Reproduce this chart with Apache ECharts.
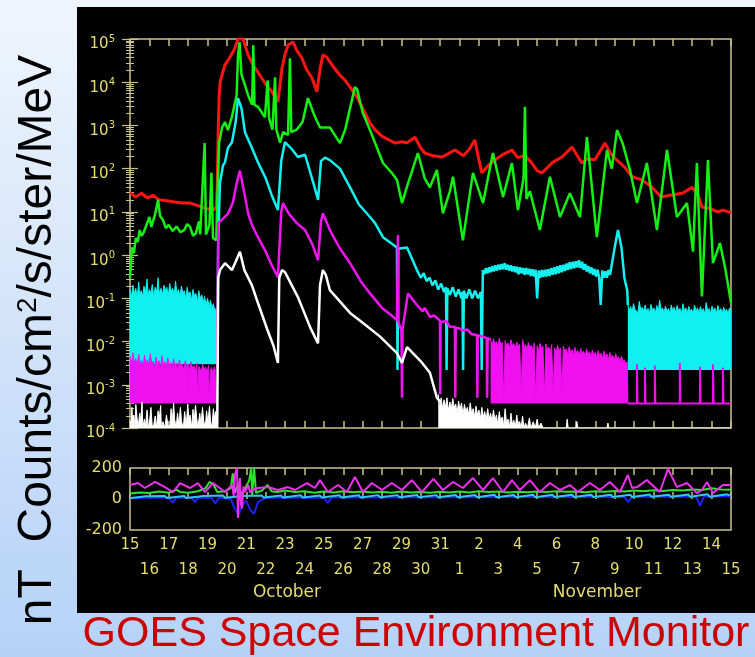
<!DOCTYPE html>
<html><head><meta charset="utf-8">
<script src="https://cdn.jsdelivr.net/npm/echarts@6/dist/echarts.min.js"></script>
<style>html,body{margin:0;padding:0;width:755px;height:657px;overflow:hidden;background:#dbe8fa}#c{width:755px;height:657px}</style>
</head><body><div id="c"></div><script>
// ---------- tick labels ----------
const dayLabels = ['15','16','17','18','19','20','21','22','23','24','25','26','27','28','29','30','31','1','2','3','4','5','6','7','8','9','10','11','12','13','14','15'];
const monthNames = ['October', 'November'];

// ---------- particle flux (x = days since Oct 15, y = counts/cm2/s/ster/MeV) ----------
const cyanFloor = 0.0022;
const cyanEarlyFloor = 0.003;
const magentaFloor = 0.00037;

const fluxRed = [[0,28],[0.3,22],[0.6,27],[0.9,21],[1.2,24],[1.5,19],[1.9,18],[2.3,17],[2.7,16],[3.1,16],[3.5,14],[3.9,12],[4.3,11],[4.45,13],
[4.5,40],[4.55,800],[4.6,5000],[4.65,10000],[4.8,18000],[4.9,25000],[5.16,38000],[5.4,60000],[5.57,100000],[5.83,100000],[6.09,43000],[6.35,25000],[6.6,17000],[7.0,9000],[7.32,6000],[7.63,3500],[7.84,21000],[8.0,45000],[8.15,72000],[8.41,85000],[8.6,55000],[8.87,36000],[9.1,20000],[9.39,12500],[9.64,6000],[9.8,20000],[9.95,43000],[10.15,38000],[10.42,25000],[10.83,14500],[11.1,11000],[11.35,7700],[11.7,4600],[12.0,2500],[12.38,1140],[12.64,800],[13.0,560],[13.3,480],[13.67,390],[14.0,420],[14.3,400],[14.7,535],[15.0,300],[15.2,230],[15.6,200],[16.1,186],[16.4,220],[16.76,270],[17.2,200],[17.5,280],[17.79,460],[17.95,200],[18.15,80],[18.5,120],[18.82,158],[19.3,220],[19.7,270],[20.0,180],[20.37,200],[20.7,140],[21.0,90],[21.25,80],[21.8,140],[22.28,186],[22.8,316],[23.3,135],[23.6,170],[23.98,160],[24.5,390],[24.8,220],[25.1,160],[25.5,110],[25.9,65],[26.4,55],[26.9,38],[27.4,22],[28.0,25],[28.5,27],[29.0,37],[29.3,24],[29.5,13],[29.9,12],[30.3,10],[30.6,11],[31.0,9.5]];

const fluxGreen = [[0,0.3],[0.1,1.5],[0.2,1.1],[0.3,2.5],[0.4,2],[0.5,3.8],[0.6,2.8],[0.7,3.3],[0.85,5],[1.0,7.6],[1.1,4.5],[1.2,5],[1.3,9],[1.45,19],[1.55,8],[1.7,6.5],[1.85,4.2],[2.0,5],[2.2,3.6],[2.4,4.6],[2.6,3.4],[2.8,3.8],[2.95,5.2],[3.1,4.5],[3.25,2.8],[3.4,3.2],[3.55,6],[3.62,3],[3.85,390],[3.92,3],[4.1,5],[4.2,80],[4.28,2.5],[4.45,2.2],[4.5,19],
[4.6,410],[4.75,900],[4.9,1200],[5.05,780],[5.26,1600],[5.5,5000],[5.57,40000],[5.65,85000],[5.75,15000],[5.93,8600],[6.09,5000],[6.3,3000],[6.36,72000],[6.42,3000],[6.6,2700],[6.96,1550],[7.1,11000],[7.17,1500],[7.35,800],[7.48,13000],[7.55,800],[7.74,400],[7.9,700],[8.15,600],[8.25,36000],[8.32,700],[8.6,800],[8.9,1200],[9.18,4300],[9.5,1750],[9.8,900],[10.31,900],[10.83,390],[11.1,800],[11.6,7700],[11.71,7000],[12.0,2000],[12.38,780],[13.05,135],[13.5,80],[13.77,55],[14.03,16],[14.3,40],[14.85,230],[15.2,60],[15.47,37],[15.83,93],[16.14,9.3],[16.5,30],[16.66,65],[17.17,2.2],[17.69,80],[18.21,16],[18.72,230],[19.24,22],[19.7,135],[20.01,11],[20.3,60],[20.37,2700],[20.45,20],[20.63,30],[21.14,3.8],[21.66,65],[22.18,7.6],[22.69,27],[23.21,7.6],[23.57,535],[24.08,2.6],[24.6,270],[24.85,100],[25.12,780],[25.4,400],[25.79,93],[26.15,16],[26.66,135],[27.18,3.8],[27.7,270],[28.21,7.6],[28.73,16],[29.04,1.2],[29.24,135],[29.5,0.11],[29.81,158],[30.07,0.65],[30.43,1.9],[30.7,0.5],[31.0,0.08]];

const fluxCyan = [[4.5,0.003],[4.55,2],[4.64,47],[4.8,120],[4.9,140],[5.05,300],[5.26,410],[5.45,1200],[5.57,4300],[5.75,2500],[5.93,700],[6.29,300],[6.6,140],[7.0,60],[7.3,25],[7.63,11],[7.8,150],[7.99,410],[8.3,300],[8.66,186],[9.03,210],[9.5,40],[9.7,19],[9.85,150],[10.06,180],[10.31,158],[10.83,100],[11.35,37],[11.8,15],[12.38,7.6],[12.64,5.5],[13.05,2.6],[13.77,1.5],[13.8,0.0022],[13.84,1.4],[14.29,1.5],[14.8,0.45],[15.0,0.3],[15.15,0.38],[15.3,0.25],[15.45,0.3],[15.6,0.2],[15.75,0.26],[15.9,0.16],[16.05,0.22],[16.2,0.14],[16.3,0.18],[16.33,0.0022],[16.37,0.17],[16.5,0.12],[16.65,0.18],[16.8,0.11],[16.95,0.16],[17.1,0.1],[17.15,0.14],[17.18,0.0022],[17.22,0.15],[17.35,0.1],[17.5,0.16],[17.65,0.1],[17.8,0.15],[17.95,0.1],[18.1,0.14],[18.14,0.0022],[18.2,0.45],[18.28,0.36],[18.36,0.5],[18.44,0.38],[18.52,0.52],[18.6,0.4],[18.68,0.55],[18.76,0.42],[18.84,0.58],[18.92,0.44],[19.0,0.6],[19.08,0.46],[19.16,0.62],[19.24,0.47],[19.32,0.65],[19.4,0.46],[19.48,0.6],[19.56,0.44],[19.64,0.58],[19.72,0.42],[19.8,0.55],[19.88,0.4],[19.96,0.54],[20.04,0.36],[20.12,0.52],[20.2,0.38],[20.28,0.5],[20.36,0.35],[20.44,0.5],[20.52,0.36],[20.6,0.48],[20.68,0.33],[20.76,0.47],[20.84,0.32],[20.92,0.46],[21.0,0.1],[21.08,0.44],[21.16,0.3],[21.24,0.45],[21.32,0.31],[21.4,0.46],[21.48,0.32],[21.56,0.47],[21.64,0.33],[21.72,0.5],[21.8,0.35],[21.88,0.52],[21.96,0.36],[22.04,0.55],[22.12,0.38],[22.2,0.58],[22.28,0.4],[22.36,0.6],[22.44,0.43],[22.52,0.64],[22.6,0.46],[22.68,0.68],[22.76,0.48],[22.84,0.7],[22.92,0.5],[23.0,0.72],[23.08,0.52],[23.16,0.76],[23.24,0.5],[23.32,0.7],[23.4,0.46],[23.48,0.62],[23.56,0.42],[23.64,0.56],[23.72,0.38],[23.8,0.52],[23.88,0.35],[23.96,0.48],[24.04,0.32],[24.12,0.46],[24.2,0.3],[24.28,0.07],[24.36,0.44],[24.44,0.3],[24.52,0.42],[24.6,0.3],[24.68,0.45],[24.76,0.35],[24.85,0.6],[25.0,1.5],[25.17,3.8],[25.35,1.5],[25.5,0.3],[25.65,0.15],[25.68,0.07]];

const fluxMagenta = [[4.5,0.0025],[4.55,5.5],[4.8,7],[5.05,9],[5.3,16],[5.5,45],[5.67,90],[5.85,35],[6.1,9],[6.29,5],[6.6,2.6],[7.0,1.2],[7.3,0.6],[7.63,0.31],[7.8,10],[7.89,16],[8.2,9],[8.6,5.5],[9.03,3.8],[9.4,1.8],[9.7,0.76],[9.85,6],[9.95,9.3],[10.31,3.8],[10.8,1.5],[11.35,0.65],[11.9,0.25],[12.38,0.13],[13.0,0.06],[13.5,0.04],[13.77,0.031],[13.82,2.9],[13.85,0.028],[14.0,0.018],[14.03,0.0005],[14.06,0.02],[14.34,0.13],[14.8,0.07],[15.1,0.05],[15.2,0.06],[15.47,0.037],[15.7,0.04],[15.99,0.03],[16.0,0.0006],[16.02,0.028],[16.3,0.03],[16.5,0.022],[16.76,0.022],[16.78,0.0005],[16.8,0.021],[17.0,0.02],[17.17,0.018],[17.4,0.019],[17.6,0.015],[17.9,0.014],[17.92,0.0005],[17.94,0.014],[18.2,0.013],[18.4,0.012],[18.42,0.0005],[18.45,0.012],[18.6,0.011]];

const fluxWhite = [[4.5,0.0001],[4.55,0.3],[4.64,0.45],[4.9,0.65],[5.26,0.45],[5.45,0.7],[5.67,1.2],[5.9,0.45],[6.29,0.2],[6.6,0.078],[7.1,0.018],[7.4,0.008],[7.63,0.0032],[7.7,0.3],[7.84,0.45],[8.0,0.4],[8.66,0.107],[9.3,0.021],[9.7,0.0091],[9.8,0.2],[9.95,0.45],[10.1,0.35],[10.31,0.155],[11.35,0.046],[12.02,0.027],[12.9,0.013],[13.77,0.0054],[14.03,0.0032],[14.29,0.0074],[15.0,0.0035],[15.47,0.0019],[15.83,0.0005],[16.0,0.0004]];

// noisy background bands (upper envelope, filled down to the channel floor)
const cyanBandEarly = [[0,0.16],[0.08,0.11],[0.15,0.2],[0.22,0.13],[0.3,0.17],[0.37,0.1],[0.45,0.24],[0.5,0.12],[0.58,0.15],[0.66,0.11],[0.72,0.19],[0.8,0.14],[0.88,0.28],[0.93,0.12],[1.0,0.16],[1.08,0.13],[1.15,0.21],[1.22,0.11],[1.3,0.18],[1.38,0.14],[1.45,0.3],[1.5,0.13],[1.6,0.17],[1.68,0.12],[1.75,0.2],[1.83,0.15],[1.9,0.18],[1.97,0.11],[2.05,0.22],[2.12,0.14],[2.2,0.17],[2.28,0.12],[2.35,0.25],[2.42,0.13],[2.5,0.16],[2.58,0.11],[2.65,0.19],[2.73,0.13],[2.8,0.15],[2.88,0.1],[2.95,0.18],[3.02,0.12],[3.1,0.14],[3.18,0.09],[3.25,0.16],[3.33,0.11],[3.4,0.13],[3.48,0.08],[3.55,0.15],[3.62,0.1],[3.7,0.12],[3.78,0.08],[3.85,0.11],[3.92,0.07],[4.0,0.1],[4.08,0.065],[4.15,0.09],[4.22,0.06],[4.3,0.075],[4.38,0.05],[4.45,0.06],[4.5,0.05]];
const cyanBandLate = [[25.68,0.07],[25.75,0.05],[25.82,0.065],[25.9,0.048],[25.97,0.075],[26.05,0.055],[26.12,0.06],[26.2,0.047],[26.27,0.085],[26.35,0.052],[26.42,0.062],[26.5,0.05],[26.57,0.07],[26.65,0.048],[26.72,0.058],[26.8,0.045],[26.87,0.072],[26.95,0.053],[27.02,0.06],[27.1,0.046],[27.17,0.068],[27.25,0.05],[27.32,0.09],[27.4,0.052],[27.47,0.06],[27.55,0.047],[27.62,0.066],[27.7,0.05],[27.77,0.058],[27.85,0.045],[27.92,0.07],[28.0,0.05],[28.07,0.062],[28.15,0.046],[28.22,0.068],[28.3,0.052],[28.37,0.058],[28.45,0.044],[28.52,0.075],[28.6,0.05],[28.67,0.06],[28.75,0.046],[28.82,0.065],[28.9,0.05],[28.97,0.056],[29.05,0.044],[29.12,0.07],[29.2,0.05],[29.27,0.06],[29.35,0.045],[29.42,0.064],[29.5,0.048],[29.57,0.058],[29.65,0.044],[29.72,0.08],[29.8,0.05],[29.87,0.058],[29.95,0.045],[30.02,0.066],[30.1,0.05],[30.17,0.06],[30.25,0.044],[30.32,0.068],[30.4,0.048],[30.47,0.058],[30.55,0.045],[30.62,0.062],[30.7,0.048],[30.77,0.056],[30.85,0.044],[30.92,0.06],[31,0.05]];
const magentaBandEarly = [[0,0.0045],[0.08,0.003],[0.15,0.0055],[0.22,0.0032],[0.3,0.004],[0.37,0.0028],[0.45,0.005],[0.52,0.003],[0.6,0.0036],[0.67,0.0026],[0.75,0.0048],[0.82,0.0031],[0.9,0.0038],[0.97,0.0027],[1.05,0.0052],[1.12,0.003],[1.2,0.0035],[1.27,0.0025],[1.35,0.0044],[1.42,0.0029],[1.5,0.0036],[1.57,0.0024],[1.65,0.0047],[1.72,0.003],[1.8,0.0034],[1.87,0.0025],[1.95,0.0042],[2.02,0.0028],[2.1,0.0033],[2.17,0.0023],[2.25,0.004],[2.32,0.0027],[2.4,0.0032],[2.47,0.0022],[2.55,0.0038],[2.62,0.0026],[2.7,0.003],[2.77,0.0022],[2.85,0.0036],[2.92,0.0025],[2.98,0.003],[3.0,0.0004],[3.02,0.003],[3.07,0.0021],[3.15,0.0034],[3.22,0.0024],[3.3,0.0028],[3.37,0.002],[3.45,0.0032],[3.5,0.0004],[3.55,0.0027],[3.6,0.0027],[3.67,0.002],[3.75,0.003],[3.82,0.0022],[3.9,0.0026],[3.97,0.0019],[4.05,0.0028],[4.1,0.0004],[4.14,0.0021],[4.2,0.0025],[4.27,0.0019],[4.35,0.0026],[4.42,0.002],[4.5,0.0022]];
const magentaBandLate = [[18.6,0.011],[18.68,0.008],[18.75,0.0115],[18.83,0.0085],[18.9,0.01],[18.98,0.0075],[19.05,0.012],[19.13,0.0082],[19.2,0.0095],[19.28,0.0004],[19.35,0.0105],[19.43,0.008],[19.5,0.0092],[19.58,0.007],[19.65,0.011],[19.73,0.0078],[19.8,0.009],[19.88,0.0068],[19.95,0.0098],[20.03,0.0075],[20.1,0.0088],[20.18,0.0005],[20.25,0.011],[20.33,0.0074],[20.4,0.0085],[20.48,0.0064],[20.55,0.0095],[20.63,0.0072],[20.7,0.0082],[20.78,0.0062],[20.85,0.0092],[20.93,0.0004],[21.0,0.008],[21.08,0.006],[21.15,0.009],[21.23,0.0068],[21.3,0.0078],[21.38,0.0005],[21.45,0.0088],[21.53,0.0065],[21.6,0.0075],[21.68,0.0056],[21.75,0.0085],[21.83,0.0005],[21.9,0.0072],[21.98,0.0054],[22.05,0.0082],[22.13,0.006],[22.2,0.007],[22.28,0.0006],[22.35,0.0078],[22.43,0.0058],[22.5,0.0068],[22.58,0.005],[22.65,0.0076],[22.73,0.0056],[22.8,0.0065],[22.88,0.0048],[22.95,0.0073],[23.03,0.0054],[23.1,0.0062],[23.18,0.0047],[23.25,0.007],[23.33,0.0052],[23.4,0.006],[23.48,0.0045],[23.55,0.0068],[23.63,0.005],[23.7,0.0058],[23.78,0.0044],[23.85,0.0064],[23.93,0.0048],[24.0,0.0056],[24.08,0.0042],[24.15,0.0062],[24.23,0.0046],[24.3,0.0054],[24.38,0.004],[24.45,0.006],[24.53,0.0044],[24.6,0.0052],[24.68,0.0038],[24.75,0.0056],[24.83,0.0042],[24.9,0.0048],[24.98,0.0036],[25.05,0.0052],[25.13,0.004],[25.2,0.0045],[25.28,0.0034],[25.35,0.0046],[25.43,0.0034],[25.5,0.0038],[25.58,0.003],[25.65,0.0034],[25.68,0.00037]];
const magentaLate = [[25.68,0.00037],[26.15,0.00037],[26.15,0.003],[26.18,0.00037],[26.56,0.00037],[26.56,0.0025],[26.59,0.00037],[27.07,0.00037],[27.07,0.0028],[27.1,0.00037],[28.36,0.00037],[28.36,0.0032],[28.39,0.00037],[29.4,0.00037],[29.4,0.0026],[29.43,0.00037],[30.07,0.00037],[30.07,0.003],[30.1,0.00037],[30.58,0.00037],[30.58,0.0025],[30.61,0.00037],[31,0.00037]];
const whiteBandEarly = [[0,0.00015],[0.06,0.0001],[0.1,0.0003],[0.14,0.00012],[0.2,0.0002],[0.26,0.0001],[0.3,0.00035],[0.36,0.00018],[0.42,0.0001],[0.5,0.00022],[0.55,0.00014],[0.62,0.0004],[0.66,0.0001],[0.74,0.00016],[0.8,0.00011],[0.88,0.00026],[0.95,0.0001],[1.0,0.00013],[1.08,0.0003],[1.14,0.00012],[1.2,0.0001],[1.3,0.00019],[1.36,0.0001],[1.45,0.00025],[1.5,0.00015],[1.58,0.00033],[1.62,0.0001],[1.7,0.00014],[1.8,0.0001],[1.88,0.0002],[1.95,0.00012],[2.05,0.0001],[2.12,0.00028],[2.18,0.00013],[2.25,0.00038],[2.3,0.00016],[2.38,0.0001],[2.45,0.00022],[2.52,0.00012],[2.6,0.0003],[2.66,0.00014],[2.75,0.0001],[2.82,0.00024],[2.9,0.00011],[2.98,0.00036],[3.04,0.00015],[3.1,0.0002],[3.18,0.0001],[3.25,0.00027],[3.3,0.00013],[3.38,0.00034],[3.44,0.00017],[3.5,0.0001],[3.6,0.00022],[3.66,0.00012],[3.74,0.0003],[3.8,0.00015],[3.88,0.0001],[3.95,0.00025],[4.02,0.00013],[4.1,0.00032],[4.16,0.00014],[4.22,0.0001],[4.3,0.00028],[4.36,0.00016],[4.42,0.00024],[4.48,0.0001]];
const whiteBandLate = [[15.9,0.0006],[15.97,0.0003],[16.05,0.0005],[16.12,0.00028],[16.2,0.00045],[16.27,0.0003],[16.35,0.0005],[16.42,0.00025],[16.5,0.0004],[16.57,0.00028],[16.65,0.00048],[16.72,0.0003],[16.8,0.00036],[16.87,0.00022],[16.95,0.00042],[17.02,0.00026],[17.1,0.00038],[17.17,0.0002],[17.25,0.00035],[17.32,0.00024],[17.4,0.0003],[17.47,0.0002],[17.55,0.00038],[17.62,0.00022],[17.7,0.00028],[17.77,0.00018],[17.85,0.00032],[17.92,0.0002],[18.0,0.00026],[18.07,0.00016],[18.15,0.0003],[18.22,0.00018],[18.3,0.00024],[18.37,0.00015],[18.45,0.00028],[18.52,0.00016],[18.6,0.00022],[18.67,0.00014],[18.75,0.00026],[18.82,0.00015],[18.9,0.0002],[18.97,0.00012],[19.05,0.00024],[19.12,0.00014],[19.2,0.00018],[19.27,0.00011],[19.35,0.00028],[19.42,0.00013],[19.5,0.00016],[19.57,0.0001],[19.65,0.00022],[19.72,0.00012],[19.8,0.00015],[19.87,0.0001],[19.95,0.0002],[20.02,0.00011],[20.1,0.00014],[20.17,0.0001],[20.25,0.00019],[20.32,0.0001],[20.4,0.00013],[20.5,0.0001],[20.6,0.00017],[20.68,0.0001],[20.8,0.00014],[20.9,0.0001],[21.0,0.00016],[21.08,0.0001],[21.2,0.00013],[21.3,0.0001],[22.5,0.0001],[22.55,0.00016],[22.6,0.0001],[23.0,0.0001],[23.05,0.00014],[23.1,0.0001],[24.6,0.0001],[24.65,0.00013],[24.7,0.0001],[31,0.0001]];

// ---------- magnetometer (nT) ----------
const magHp = [[0,90],[0.41,103],[0.77,71],[1.29,110],[1.8,77],[2.22,45],[2.58,103],[3.1,71],[3.5,103],[3.87,45],[4.28,103],[4.9,45],[5.1,70],[5.26,90],[5.35,20],[5.42,160],[5.52,200],[5.57,-122],[5.62,60],[5.67,135],[5.72,-30],[5.78,-60],[5.85,80],[5.93,45],[6.1,90],[6.2,40],[6.29,58],[6.6,71],[7.12,77],[7.63,58],[8.15,77],[8.51,58],[9.13,103],[9.54,71],[9.8,122],[10.21,45],[10.73,90],[11.19,45],[11.6,142],[12.02,45],[12.48,103],[13.0,58],[13.51,103],[14.03,58],[14.54,122],[15.06,45],[15.65,130],[16.14,58],[16.66,110],[17.17,71],[17.69,135],[18.21,58],[18.72,135],[19.24,45],[19.7,122],[20.11,58],[20.63,122],[21.14,45],[21.66,103],[22.18,58],[22.69,90],[23.1,45],[23.72,103],[24.24,58],[24.75,110],[25.27,45],[25.68,155],[25.9,71],[26.15,77],[26.66,122],[27.33,45],[27.75,195],[28.21,77],[28.73,103],[29.24,38],[29.5,58],[29.76,110],[30.07,38],[30.58,90],[31.0,90]];
const magGreen = [[0,35],[0.5,42],[1.0,38],[1.5,48],[2.0,40],[2.4,60],[2.6,45],[3.0,40],[3.5,50],[3.9,70],[4.1,110],[4.3,95],[4.5,45],[4.9,50],[5.2,70],[5.3,165],[5.4,40],[5.55,90],[5.7,30],[5.9,60],[6.15,120],[6.25,200],[6.3,20],[6.4,200],[6.5,40],[6.8,55],[7.1,90],[7.3,50],[7.6,45],[8.0,55],[8.5,45],[9.0,50],[9.5,40],[10.0,48],[10.5,42],[11.0,50],[11.5,44],[12.0,48],[12.5,42],[13.0,46],[13.5,40],[14.0,48],[14.5,42],[15.0,45],[15.5,40],[16.0,46],[16.5,42],[17.0,48],[17.5,42],[18.0,50],[18.5,45],[19.0,48],[19.5,42],[20.0,46],[20.5,44],[21.0,48],[21.5,45],[22.0,50],[22.5,46],[23.0,48],[23.5,44],[24.0,50],[24.5,46],[25.0,52],[25.5,48],[26.0,55],[26.5,50],[27.0,56],[27.5,52],[28.0,58],[28.5,55],[29.0,62],[29.5,58],[30.0,70],[30.5,62],[31.0,60]];
const magCyan = [[0,5],[0.8,18],[0.9,6],[1.8,20],[1.9,7],[2.8,19],[2.9,6],[3.8,20],[3.9,8],[4.8,22],[4.9,8],[5.8,20],[5.9,8],[6.8,22],[6.9,9],[7.8,22],[7.9,9],[8.8,24],[8.9,10],[9.8,22],[9.9,9],[10.8,24],[10.9,10],[11.8,24],[11.9,10],[12.8,25],[12.9,11],[13.8,25],[13.9,11],[14.8,26],[14.9,11],[15.8,25],[15.9,11],[16.8,26],[16.9,12],[17.8,26],[17.9,12],[18.8,27],[18.9,12],[19.8,26],[19.9,12],[20.8,27],[20.9,12],[21.8,27],[21.9,13],[22.8,28],[22.9,13],[23.8,27],[23.9,13],[24.8,28],[24.9,13],[25.8,28],[25.9,13],[26.8,29],[26.9,14],[27.8,28],[27.9,14],[28.8,29],[28.9,14],[29.8,30],[29.9,15],[30.8,30],[31,20]];
const magBlue = [[0,8],[2.0,8],[2.2,-25],[2.4,8],[3.2,8],[3.35,-20],[3.5,8],[4.2,8],[4.4,-28],[4.6,8],[5.2,0],[5.4,-60],[5.6,-100],[5.8,-40],[6.0,-10],[6.2,-70],[6.4,-95],[6.6,-20],[7,8],[10.0,10],[10.2,-25],[10.4,10],[25.5,14],[25.7,-20],[25.9,14],[29.2,16],[29.4,-45],[29.6,16],[31,18]];

// ---------- styles ----------
const axisColor = '#c9c28a';
const labelColor = '#e6dc6e';
const labelFont = 'DejaVu Sans';

function line(data, color, width, xi, yi, area) {
  const s = { type: 'line', data, xAxisIndex: xi, yAxisIndex: yi, symbol: 'none', showSymbol: false,
    lineStyle: { color, width }, itemStyle: { color }, silent: true, animation: false, z: 2 };
  if (area !== undefined) s.areaStyle = { color, opacity: 1, origin: area };
  return s;
}
function dayAxis(gridIndex, position, withLabels) {
  return { type: 'value', gridIndex, position, min: 0, max: 31, interval: 1,
    axisLine: { show: false }, splitLine: { show: false },
    axisTick: { show: true, inside: true, length: 7, lineStyle: { color: axisColor, width: 1.5 } },
    axisLabel: withLabels ? { show: true, color: labelColor, fontFamily: labelFont, fontSize: 15, margin: 3, lineHeight: 25,
      formatter: v => { const i = Math.round(v); return i % 2 === 0 ? dayLabels[i] : '\n' + dayLabels[i]; } } : { show: false } };
}
function logAxis(position, withLabels) {
  return { type: 'log', logBase: 10, gridIndex: 0, position, min: 0.0001, max: 100000,
    axisLine: { show: false }, splitLine: { show: false },
    axisTick: { show: true, inside: true, length: 8, lineStyle: { color: axisColor, width: 1.2 } },
    minorTick: { show: true, splitNumber: 10, length: 4, lineStyle: { color: axisColor, width: 1 } },
    axisLabel: withLabels ? { show: true, margin: 15, padding: [8, 0, 0, 0], color: labelColor,
      formatter: v => '{b|10}{s|' + Math.round(Math.log10(v)) + '}',
      rich: { b: { color: labelColor, fontFamily: labelFont, fontSize: 15, verticalAlign: 'bottom' },
              s: { color: labelColor, fontFamily: labelFont, fontSize: 10, verticalAlign: 'top', padding: [0, 0, 8, 0] } } } : { show: false } };
}

const chart = echarts.init(document.getElementById('c'), null, { renderer: 'canvas' });
chart.setOption({
  animation: false,
  graphic: [
    { type: 'rect', z: -100, silent: true, shape: { x: 0, y: 0, width: 755, height: 657 },
      style: { fill: new echarts.graphic.LinearGradient(0, 0, 0, 1, [{ offset: 0, color: '#eff5fd' }, { offset: 1, color: '#b5d2f6' }]) } },
    { type: 'rect', z: -99, silent: true, shape: { x: 77, y: 7, width: 678, height: 606 }, style: { fill: '#000000' } },
    { type: 'text', z: 10, silent: true, x: 38, y: 340, rotation: Math.PI / 2,
      style: { text: 'nT  Counts/cm{sup|2}/s/ster/MeV', fill: '#000000', fontFamily: 'Liberation Sans', fontSize: 48,
        align: 'center', verticalAlign: 'middle',
        rich: { sup: { fill: '#000000', fontFamily: 'Liberation Sans', fontSize: 28, verticalAlign: 'top', padding: [0, 0, 14, 0] } } } },
    { type: 'text', z: 10, silent: true, x: 416, y: 634,
      style: { text: 'GOES Space Environment Monitor', fill: '#cc0000', fontFamily: 'Liberation Sans', fontSize: 43, align: 'center', verticalAlign: 'middle' } },
    { type: 'text', z: 10, silent: true, x: 287, y: 593,
      style: { text: monthNames[0], fill: labelColor, fontFamily: labelFont, fontSize: 17, align: 'center', verticalAlign: 'middle' } },
    { type: 'text', z: 10, silent: true, x: 597, y: 593,
      style: { text: monthNames[1], fill: labelColor, fontFamily: labelFont, fontSize: 17, align: 'center', verticalAlign: 'middle' } }
  ],
  grid: [
    { left: 130, top: 39, width: 601, height: 389, show: true, borderColor: axisColor, borderWidth: 1.5, backgroundColor: 'transparent', containLabel: false, outerBoundsMode: 'none' },
    { left: 130, top: 468, width: 601, height: 62, show: true, borderColor: axisColor, borderWidth: 1.5, backgroundColor: 'transparent', containLabel: false, outerBoundsMode: 'none' }
  ],
  xAxis: [dayAxis(0, 'bottom', false), dayAxis(0, 'top', false), dayAxis(1, 'bottom', true), dayAxis(1, 'top', false)],
  yAxis: [
    logAxis('left', true), logAxis('right', false),
    { type: 'value', gridIndex: 1, position: 'left', min: -200, max: 200, interval: 200,
      axisLine: { show: false }, splitLine: { show: false }, axisTick: { show: false },
      axisLabel: { color: labelColor, fontFamily: labelFont, fontSize: 16, margin: 8 } }
  ],
  series: [
    line(cyanBandEarly, '#10f0f0', 1, 0, 0, cyanEarlyFloor),
    line(cyanBandLate, '#10f0f0', 1, 0, 0, cyanFloor),
    line(magentaBandEarly, '#f010f0', 1, 0, 0, magentaFloor),
    line(magentaBandLate, '#f010f0', 1, 0, 0, magentaFloor),
    line(whiteBandEarly, '#ffffff', 1, 0, 0, 'start'),
    line(whiteBandLate, '#ffffff', 1, 0, 0, 'start'),
    line(magentaLate, '#f010f0', 2, 0, 0),
    line(fluxRed, '#ff1414', 3, 0, 0),
    line(fluxGreen, '#14f014', 2.5, 0, 0),
    line(fluxCyan, '#14f0f0', 2.5, 0, 0),
    line(fluxMagenta, '#f014f0', 2.5, 0, 0),
    line(fluxWhite, '#ffffff', 2.5, 0, 0),
    line(magBlue, '#2020ff', 2, 2, 2),
    line(magGreen, '#30e030', 2, 2, 2),
    line(magCyan, '#30c8f0', 2, 2, 2),
    line(magHp, '#ee30ee', 2, 2, 2)
  ]
});
</script></body></html>
